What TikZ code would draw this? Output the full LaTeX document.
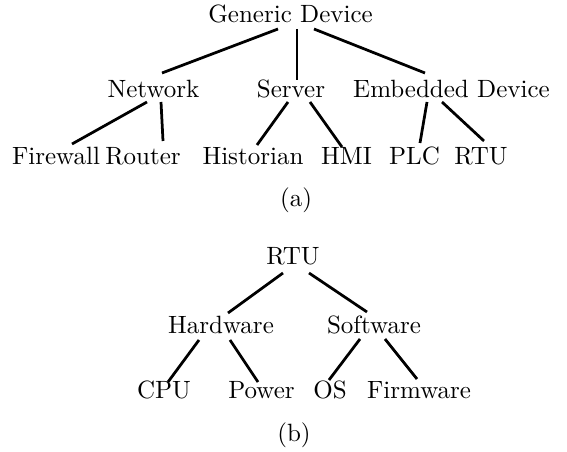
\documentclass[tikz,border=0pt]{standalone}
\usetikzlibrary{calc}
\begin{document}
\begin{tikzpicture}[x=0.4pt,y=-0.4pt,
  lbl/.style={inner sep=0pt,anchor=base},
  sublabel/.style={inner sep=0pt,anchor=center},
  link/.style={line width=1.1pt}]
\useasboundingbox (0,0) rectangle (567,452);

% ---- (a) device taxonomy ----
\node[lbl] (gd)   at (290.5,22.5) {Generic Device};
\node[lbl] (net)  at (153.5,98)   {Network};
\node[lbl] (srv)  at (291,98)     {Server};
\node[lbl] (emb)  at (451.5,98)   {Embedded Device};
\node[lbl] (fw)   at (56,165)     {Firewall};
\node[lbl] (rt)   at (143,165)    {Router};
\node[lbl] (hist) at (253,165)    {Historian};
\node[lbl] (hmi)  at (346.5,165)  {HMI};
\node[lbl] (plc)  at (414.5,165)  {PLC};
\node[lbl] (rtua) at (481,165)    {RTU};
\node[sublabel] (capa) at (296,200) {(a)};

\draw[link] ($(gd.base)+(-12.5,6.5)$) -- ($(net.base)+(8.5,-25)$);
\draw[link] ($(gd.base)+(6.5,6.5)$)   -- ($(srv.base)+(6,-18)$);
\draw[link] ($(gd.base)+(23.5,6.5)$)  -- ($(emb.base)+(-26.5,-25)$);
\draw[link] ($(net.base)+(-6.5,4)$)   -- ($(fw.base)+(16,-21)$);
\draw[link] ($(net.base)+(7.5,4)$)    -- ($(rt.base)+(20,-24)$);
\draw[link] ($(srv.base)+(-3,4)$)     -- ($(hist.base)+(4,-20)$);
\draw[link] ($(srv.base)+(19,4)$)     -- ($(hmi.base)+(-4.5,-18)$);
\draw[link] ($(emb.base)+(-24.5,4)$)  -- ($(plc.base)+(5.5,-22)$);
\draw[link] ($(emb.base)+(-9.5,4)$)   -- ($(rtua.base)+(3,-24)$);

% ---- (b) RTU breakdown ----
\node[lbl] (rtub) at (293,265)   {RTU};
\node[lbl] (hw)   at (221,334)   {Hardware};
\node[lbl] (sw)   at (374,334)   {Software};
\node[lbl] (cpu)  at (164,399)   {CPU};
\node[lbl] (pwr)  at (261.5,399) {Power};
\node[lbl] (os)   at (330,399)   {OS};
\node[lbl] (fwm)  at (419,399)   {Firmware};
\node[sublabel] (capb) at (294,435) {(b)};

\draw[link] ($(rtub.base)+(-10,8)$) -- ($(hw.base)+(7,-21)$);
\draw[link] ($(rtub.base)+(16,8)$)  -- ($(sw.base)+(-7,-22)$);
\draw[link] ($(hw.base)+(-22,6)$)   -- ($(cpu.base)+(4,-17)$);
\draw[link] ($(hw.base)+(9,6)$)     -- ($(pwr.base)+(-3.5,-17)$);
\draw[link] ($(sw.base)+(-14,5)$)   -- ($(os.base)+(-1,-19)$);
\draw[link] ($(sw.base)+(11,5)$)    -- ($(fwm.base)+(-2,-20)$);
\end{tikzpicture}
\end{document}
